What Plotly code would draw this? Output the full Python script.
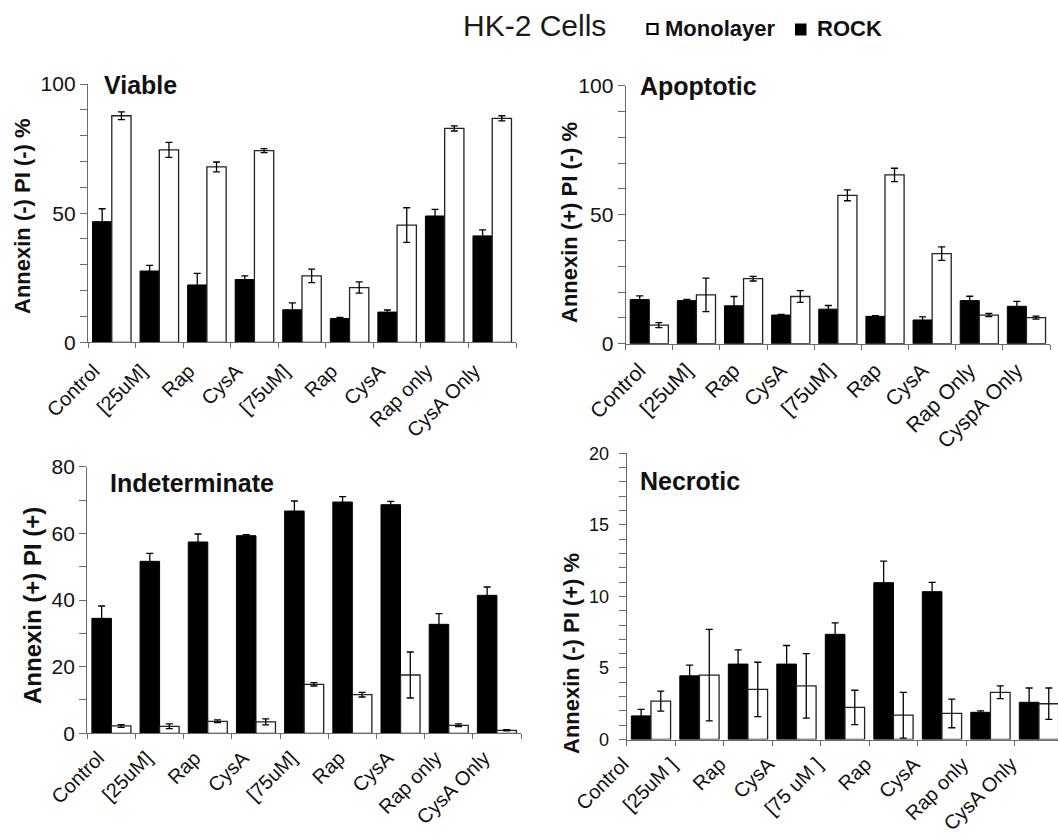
import plotly.graph_objects as go

# ---- data -------------------------------------------------------------
labels_a = ["Control", "[25uM]", "Rap", "CysA", "[75uM]", "Rap", "CysA", "Rap only", "CysA Only"]
labels_b = ["Control", "[25uM]", "Rap", "CysA", "[75uM]", "Rap", "CysA", "Rap Only", "CyspA Only"]
labels_d = ["Control", "[25uM ]", "Rap", "CysA", "[75 uM ]", "Rap", "CysA", "Rap only", "CysA Only"]

viable_rock = [46.7, 27.6, 22.2, 24.3, 12.6, 9.2, 11.7, 48.9, 41.2]
viable_rock_err = [5.0, 2.2, 4.5, 1.4, 2.7, 0.4, 0.8, 2.6, 2.3]
viable_mono = [87.7, 74.5, 67.9, 74.2, 25.7, 21.2, 45.4, 82.8, 86.7]
viable_mono_err = [1.5, 2.9, 1.9, 0.8, 2.6, 2.2, 6.7, 1.0, 1.0]

apop_rock = [17.1, 16.7, 14.7, 11.1, 13.4, 10.6, 9.2, 16.7, 14.5]
apop_rock_err = [1.4, 0.5, 3.6, 0.3, 1.4, 0.3, 1.2, 1.7, 1.9]
apop_mono = [7.2, 18.9, 25.2, 18.3, 57.5, 65.4, 34.9, 11.1, 10.1]
apop_mono_err = [1.0, 6.5, 0.9, 2.3, 2.1, 2.6, 2.6, 0.6, 0.6]

indet_rock = [34.5, 51.6, 57.4, 59.3, 66.7, 69.4, 68.6, 32.7, 41.4]
indet_rock_err = [3.7, 2.4, 2.4, 0.3, 3.0, 1.6, 1.0, 3.2, 2.5]
indet_mono = [2.2, 2.1, 3.6, 3.4, 14.7, 11.6, 17.5, 2.4, 0.9]
indet_mono_err = [0.4, 0.7, 0.4, 0.9, 0.5, 0.7, 6.9, 0.4, 0.2]

necro_rock = [1.65, 4.45, 5.27, 5.27, 7.35, 10.96, 10.33, 1.9, 2.6]
necro_rock_err = [0.45, 0.75, 1.0, 1.3, 0.8, 1.5, 0.65, 0.1, 1.0]
necro_mono = [2.68, 4.5, 3.5, 3.75, 2.24, 1.7, 1.82, 3.3, 2.5]
necro_mono_err = [0.7, 3.2, 1.9, 2.25, 1.2, 1.6, 1.0, 0.45, 1.1]

# ---- layout geometry (pixels) ----------------------------------------
W, H = 1058, 838


def px_x(v):
    return v / W


def px_y(v):
    return 1 - v / H


FONT = "Liberation Sans, Arial, Helvetica, sans-serif"
AXIS_GRAY = "#6a6a6a"
TEXT = "#111111"

fig = go.Figure()

panels = [
    # (labels, rock, rock_err, mono, mono_err, xaxis, yaxis)
    (labels_a, viable_rock, viable_rock_err, viable_mono, viable_mono_err, "x", "y"),
    (labels_b, apop_rock, apop_rock_err, apop_mono, apop_mono_err, "x2", "y2"),
    (labels_a, indet_rock, indet_rock_err, indet_mono, indet_mono_err, "x3", "y3"),
    (labels_d, necro_rock, necro_rock_err, necro_mono, necro_mono_err, "x4", "y4"),
]

for labels, rock, rock_err, mono, mono_err, xa, ya in panels:
    xs = list(range(len(labels)))
    fig.add_trace(go.Bar(
        x=xs, y=rock, name="ROCK", showlegend=False,
        marker=dict(color="#000000", line=dict(color="#000000", width=1)),
        error_y=dict(type="data", array=rock_err, color="#000000", thickness=1.3, width=3.5),
        xaxis=xa, yaxis=ya,
    ))
    fig.add_trace(go.Bar(
        x=xs, y=mono, name="Monolayer", showlegend=False,
        marker=dict(color="#ffffff", line=dict(color="#222222", width=1.3)),
        error_y=dict(type="data", array=mono_err, color="#000000", thickness=1.3, width=3.5),
        xaxis=xa, yaxis=ya,
    ))


def xaxis_cfg(labels, x0, x1, xmax, y_anchor, shift, standoff, fsize=20):
    return dict(
        domain=[px_x(x0), min(1.0, px_x(x1))],
        range=[-0.5, xmax],
        anchor=y_anchor,
        automargin=False,
        tickmode="array",
        tickvals=list(range(len(labels))),
        ticktext=labels,
        tickangle=-45,
        ticks="outside", ticklen=5, tickcolor="rgba(0,0,0,0)",
        minor=dict(ticks="outside", ticklen=5, tick0=0.5, dtick=1,
                   tickcolor=AXIS_GRAY, tickwidth=1.2),
        ticklabelshift=shift, ticklabelstandoff=standoff,
        tickfont=dict(family=FONT, size=fsize, color=TEXT),
        showline=True, linecolor=AXIS_GRAY, linewidth=1.3,
        showgrid=False, zeroline=False, fixedrange=True,
    )


def yaxis_cfg(y0px, y1px, rng, major, minor, fsize, x_anchor, standoff=0):
    return dict(
        domain=[px_y(y0px), px_y(y1px)],
        range=rng,
        anchor=x_anchor,
        automargin=False,
        tickmode="linear", tick0=0, dtick=major,
        ticks="outside", ticklen=7, tickcolor=AXIS_GRAY, tickwidth=1.2,
        minor=dict(ticks="outside", ticklen=7, dtick=minor, tickcolor=AXIS_GRAY, tickwidth=1.2),
        tickfont=dict(family=FONT, size=fsize, color=TEXT),
        ticklabelstandoff=standoff,
        showline=True, linecolor=AXIS_GRAY, linewidth=1.3,
        showgrid=False, zeroline=False, fixedrange=True,
    )


fig.update_layout(
    width=W, height=H,
    margin=dict(l=0, r=0, t=0, b=0, autoexpand=False),
    paper_bgcolor="white", plot_bgcolor="white",
    barmode="group", bargap=0.19, bargroupgap=0,
    font=dict(family=FONT, color=TEXT),
    xaxis=xaxis_cfg(labels_a, 88, 516, 8.5, "y", -18, 3),
    yaxis=yaxis_cfg(342.3, 84, [0, 100], 50, 10, 21, "x"),
    xaxis2=xaxis_cfg(labels_b, 625.7, 1050, 8.5, "y2", -10, 0, 21),
    yaxis2=yaxis_cfg(343.7, 85.7, [0, 100], 50, 10, 21, "x2"),
    xaxis3=xaxis_cfg(labels_a, 87.3, 521, 8.5, "y3", -13, -1),
    yaxis3=yaxis_cfg(733.3, 466.7, [0, 80], 20, 10, 21, "x3"),
    xaxis4=xaxis_cfg(labels_d, 626.7, 1058, -0.5 + (1058 - 626.7) / 48.5, "y4", -28, -1),
    yaxis4=yaxis_cfg(739.5, 453.3, [0, 20], 5, 1, 18, "x4", 6),
    showlegend=False,
)

# key for the two series, drawn above the panels
key_shapes = [
    dict(type="rect", xref="paper", yref="paper",
         x0=px_x(647.5), x1=px_x(657.5), y0=px_y(34), y1=px_y(24),
         fillcolor="white", line=dict(color="#000000", width=2.2)),
    dict(type="rect", xref="paper", yref="paper",
         x0=px_x(795), x1=px_x(806.5), y0=px_y(35.5), y1=px_y(23.5),
         fillcolor="#000000", line=dict(color="#000000", width=0)),
]
fig.update_layout(shapes=key_shapes)

annotations = [
    dict(text="HK-2 Cells", x=px_x(461), y=px_y(25), xanchor="left", font=dict(size=30, color="#1a1a1a")),
    dict(text="<b>Monolayer</b>", x=px_x(663), y=px_y(28), xanchor="left", font=dict(size=22)),
    dict(text="<b>ROCK</b>", x=px_x(815), y=px_y(28), xanchor="left", font=dict(size=22)),
    dict(text="<b>Viable</b>", x=px_x(102), y=px_y(85), xanchor="left", font=dict(size=25)),
    dict(text="<b>Apoptotic</b>", x=px_x(638), y=px_y(86), xanchor="left", font=dict(size=25)),
    dict(text="<b>Indeterminate</b>", x=px_x(108), y=px_y(483), xanchor="left", font=dict(size=25)),
    dict(text="<b>Necrotic</b>", x=px_x(638), y=px_y(481), xanchor="left", font=dict(size=25)),
    dict(text="<b>Annexin (-) PI (-) %</b>", x=px_x(22), y=px_y(216), textangle=-90, font=dict(size=22)),
    dict(text="<b>Annexin (+) PI (-) %</b>", x=px_x(569), y=px_y(223), textangle=-90, font=dict(size=22)),
    dict(text="<b>Annexin (+) PI (+)</b>", x=px_x(32), y=px_y(606), textangle=-90, font=dict(size=24)),
    dict(text="<b>Annexin (-) PI (+) %</b>", x=px_x(571), y=px_y(654), textangle=-90, font=dict(size=22)),
]
for a in annotations:
    a.setdefault("xanchor", "center")
    a.update(xref="paper", yref="paper", yanchor="middle", showarrow=False)
    a["font"].setdefault("color", TEXT)
    a["font"]["family"] = FONT
fig.update_layout(annotations=annotations)

fig.write_html("out.html")
